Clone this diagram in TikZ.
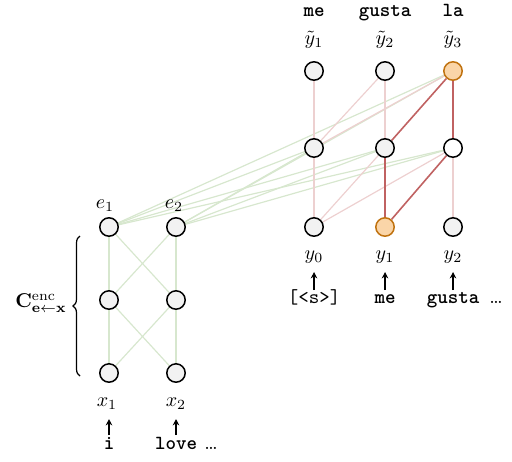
\documentclass[tikz,border=0pt]{standalone}
\usetikzlibrary{decorations.pathreplacing,backgrounds,arrows.meta}
\definecolor{nodegray}{HTML}{F2F2F2}
\definecolor{orfill}{HTML}{FAD5A8}
\definecolor{ordraw}{HTML}{C0720F}
\definecolor{darkred}{HTML}{C06262}
\definecolor{lightred}{HTML}{EDD0D0}
\definecolor{lightgreen}{HTML}{D7E7CE}
\begin{document}
\begin{tikzpicture}[x=0.5pt,y=-0.5pt,
 neuron/.style={circle,draw=black,line width=0.75pt,fill=nodegray,minimum size=9.2pt,inner sep=0pt},
 hl/.style={neuron,draw=ordraw,fill=orfill},
 wh/.style={neuron,fill=white},
 encedge/.style={draw=lightgreen,line width=0.6pt},
 weak/.style={draw=lightred,line width=0.6pt},
 strong/.style={draw=darkred,line width=0.8pt},
 lab/.style={anchor=base,inner sep=0pt},
 arr/.style={-{Stealth[length=3.2pt,width=3.2pt]},line width=0.65pt}
]
\useasboundingbox (0,0) rectangle (512,461);
% encoder nodes
\node[neuron] (ex1) at (109,373) {};
\node[neuron] (ex2) at (176,373) {};
\node[neuron] (em1) at (109,300) {};
\node[neuron] (em2) at (176,300) {};
\node[neuron] (ee1) at (109,227) {};
\node[neuron] (ee2) at (176,227) {};
% decoder nodes
\node[neuron] (b1) at (314,227) {};
\node[hl]     (b2) at (385,227) {};
\node[neuron] (b3) at (453,227) {};
\node[neuron] (m1) at (314,148) {};
\node[neuron] (m2) at (385,148) {};
\node[wh]     (m3) at (453,148) {};
\node[neuron] (t1) at (314,71) {};
\node[neuron] (t2) at (385,71) {};
\node[hl]     (t3) at (453,71) {};
\begin{scope}[on background layer]
 % encoder edges
 \foreach \a/\b in {ex1/em1,ex1/em2,ex2/em1,ex2/em2,em1/ee1,em1/ee2,em2/ee1,em2/ee2}
   \draw[encedge] (\a) -- (\b);
 % cross edges
 \foreach \a in {ee1,ee2}
   \foreach \b in {m1,m2,m3,t3}
     \draw[encedge] (\a) -- (\b);
 % weak decoder edges
 \foreach \a/\b in {b1/m1,b1/m2,b1/m3,b3/m3,m1/t1,m1/t2,m2/t2,m1/t3}
   \draw[weak] (\a) -- (\b);
 % strong decoder edges
 \foreach \a/\b in {b2/m2,b2/m3,m2/t3,m3/t3}
   \draw[strong] (\a) -- (\b);
\end{scope}
% top labels
\node[lab] (tw1) at (314,16.5) {\texttt{\textbf{me}}};
\node[lab] (tw2) at (385,16.5) {\texttt{\textbf{gusta}}};
\node[lab] (tw3) at (453,16.5) {\texttt{\textbf{la}}};
\node[lab] (ty1) at (314,44) {$\tilde{y}_1$};
\node[lab] (ty2) at (385,44) {$\tilde{y}_2$};
\node[lab] (ty3) at (453,44) {$\tilde{y}_3$};
% decoder input labels
\node[lab] (by1) at (314,259) {$y_0$};
\node[lab] (by2) at (385,259) {$y_1$};
\node[lab] (by3) at (453,259) {$y_2$};
\node[lab] (bw1) at (314,303) {\texttt{[<s>]}};
\node[lab] (bw2) at (385,303) {\texttt{\textbf{me}}};
\node[lab] (bw3) at (453,303) {\texttt{\textbf{gusta}}};
\node[lab] (bdots) at (496,303) {\dots};
\foreach \i/\x in {1/314,2/385,3/453}{
  \coordinate (bas\i) at (\x,290);
  \coordinate (bae\i) at (\x,272);
  \draw[arr] (bas\i) -- (bae\i);
}
% encoder labels
\node[lab] (le1) at (105,208) {$e_1$};
\node[lab] (le2) at (174,208) {$e_2$};
\node[lab] (lx1) at (107,406) {$x_1$};
\node[lab] (lx2) at (176,406) {$x_2$};
\node[lab] (lw1) at (109,449) {\texttt{\textbf{i}}};
\node[lab] (lw2) at (176,449) {\texttt{\textbf{love}}};
\node[lab] (ldots) at (211,449) {\dots};
\foreach \i/\x in {1/109,2/176}{
  \coordinate (eas\i) at (\x,435);
  \coordinate (eae\i) at (\x,419);
  \draw[arr] (eas\i) -- (eae\i);
}
% brace and label
\coordinate (brb) at (80,376);
\coordinate (brt) at (80,236);
\draw[decorate,decoration={brace,amplitude=3.5pt},line width=0.6pt] (brb) -- (brt);
\node (clab) at (41,303) {$\mathbf{C}^{\mathrm{enc}}_{\mathbf{e}\leftarrow\mathbf{x}}$};
\end{tikzpicture}
\end{document}
